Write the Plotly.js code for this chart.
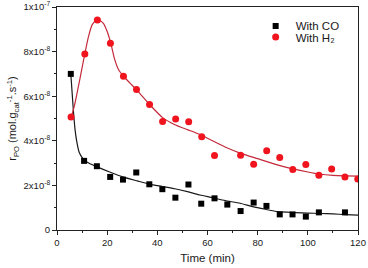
<!DOCTYPE html>
<html>
<head>
<meta charset="utf-8">
<script src="https://cdn.plot.ly/plotly-3.0.1.min.js"></script>
<style>html,body{margin:0;padding:0;background:#fff;}#chart{width:368px;height:268px;}</style>
</head>
<body>
<div id="chart"></div>
<script>
// Values in units of 1e-8 mol.g_cat^-1.s^-1
var coTime = [5.5, 10.8, 15.9, 21.2, 26.3, 31.6, 36.8, 42.0, 47.2, 52.4, 57.5, 62.8, 67.9, 73.2, 78.4, 83.5, 88.8, 93.9, 99.2, 104.4, 114.8];
var coRate = [7.0, 3.10, 2.86, 2.38, 2.26, 2.58, 2.05, 1.83, 1.45, 2.04, 1.18, 1.42, 1.14, 0.85, 1.23, 1.08, 0.70, 0.70, 0.60, 0.79, 0.79];

var h2Time = [5.6, 11.1, 16.1, 21.3, 26.5, 31.7, 36.9, 42.1, 47.3, 52.5, 57.7, 62.8, 73.2, 78.4, 83.6, 88.8, 94.0, 99.2, 104.4, 109.5, 114.8, 119.9];
var h2Rate = [5.07, 7.89, 9.42, 8.37, 6.89, 6.30, 5.63, 4.87, 4.98, 4.85, 4.18, 3.34, 3.35, 2.95, 3.55, 3.25, 2.71, 2.94, 2.46, 2.74, 2.38, 2.29];

var coFitTime = [5.5, 6.5, 7.2, 7.9, 8.8, 9.9, 10.9, 13, 16, 21, 26.5, 32, 37, 42, 47, 52, 57, 62, 67, 73, 78, 83, 88, 95, 100, 105, 110, 115, 120];
var coFitRate = [7.0, 5.4, 4.5, 3.95, 3.5, 3.27, 3.13, 2.98, 2.83, 2.6, 2.37, 2.2, 2.05, 1.95, 1.85, 1.72, 1.57, 1.45, 1.32, 1.2, 1.05, 0.93, 0.82, 0.78, 0.76, 0.74, 0.72, 0.69, 0.67];

var h2FitTime = [5.5, 7, 9, 11, 12.5, 14, 16, 18.5, 20, 21.5, 23, 24.5, 26.5, 29, 32, 37, 42, 47, 52, 57, 62, 67, 73, 80, 90, 100, 105, 110, 115, 120];
var h2FitRate = [5.0, 5.6, 6.7, 7.85, 8.65, 9.2, 9.45, 9.27, 8.9, 8.35, 7.65, 7.2, 6.9, 6.6, 6.25, 5.62, 5.05, 4.72, 4.5, 4.28, 4.0, 3.72, 3.45, 3.2, 2.85, 2.6, 2.5, 2.45, 2.43, 2.42];

var yTickVals = [0, 2, 4, 6, 8, 10];
var yTickText = ['0', '2x10<sup>-8</sup>', '4x10<sup>-8</sup>', '6x10<sup>-8</sup>', '8x10<sup>-8</sup>', '1x10<sup>-7</sup>'];

var font = 'Liberation Sans, Arial, sans-serif';
var legendFont = {size: 11.5, family: font, color: '#1a1a1a'};

var traces = [
  {x: coFitTime, y: coFitRate, mode: 'lines', line: {color: '#1a1a1a', width: 1.2, shape: 'spline', smoothing: 0.6}, showlegend: false, hoverinfo: 'skip'},
  {x: h2FitTime, y: h2FitRate, mode: 'lines', line: {color: '#c42a3a', width: 1.2, shape: 'spline', smoothing: 0.6}, showlegend: false, hoverinfo: 'skip'},
  {x: coTime, y: coRate, mode: 'markers', name: 'With CO', legend: 'legend', marker: {symbol: 'square', size: 6, color: '#000'}},
  {x: h2Time, y: h2Rate, mode: 'markers', name: 'With H\u2082', legend: 'legend2', marker: {symbol: 'circle', size: 7, color: '#f0141e'}}
];

var layout = {
  width: 368, height: 268,
  margin: {l: 57, r: 10, t: 7, b: 38},
  paper_bgcolor: '#fff', plot_bgcolor: '#fff',
  font: {family: font, color: '#1a1a1a', size: 9},
  showlegend: true,
  legend: {x: 0.66, y: 0.98, xanchor: 'left', yanchor: 'top', bgcolor: 'rgba(0,0,0,0)', font: legendFont},
  legend2: {x: 0.66, y: 0.93, xanchor: 'left', yanchor: 'top', bgcolor: 'rgba(0,0,0,0)', font: legendFont},
  xaxis: {
    range: [0, 120], tickvals: [0, 20, 40, 60, 80, 100, 120], ticks: 'outside', ticklen: 4, tickwidth: 1, tickcolor: '#222',
    minor: {tickvals: [10, 30, 50, 70, 90, 110], ticks: 'outside', ticklen: 2, tickcolor: '#222'},
    showline: true, linecolor: '#222', linewidth: 1, mirror: true, showgrid: false, zeroline: false,
    tickfont: {size: 9.5, family: font, color: '#1a1a1a'},
    title: {text: 'Time (min)', font: {size: 11.5, family: font, color: '#1a1a1a'}, standoff: 6}
  },
  yaxis: {
    range: [0, 10], tickvals: yTickVals, ticktext: yTickText, ticks: 'outside', ticklen: 4, tickwidth: 1, tickcolor: '#222',
    minor: {tickvals: [1, 3, 5, 7, 9], ticks: 'outside', ticklen: 2, tickcolor: '#222'},
    showline: true, linecolor: '#222', linewidth: 1, mirror: true, showgrid: false, zeroline: false,
    tickfont: {size: 9.5, family: font, color: '#1a1a1a'},
    title: {text: 'r<sub>PO</sub> (mol.g<sub>cat</sub><sup>-1</sup>.s<sup>-1</sup>)', font: {size: 11, family: font, color: '#1a1a1a'}, standoff: 4}
  }
};

Plotly.newPlot('chart', traces, layout, {displayModeBar: false, staticPlot: true});
</script>
</body>
</html>
